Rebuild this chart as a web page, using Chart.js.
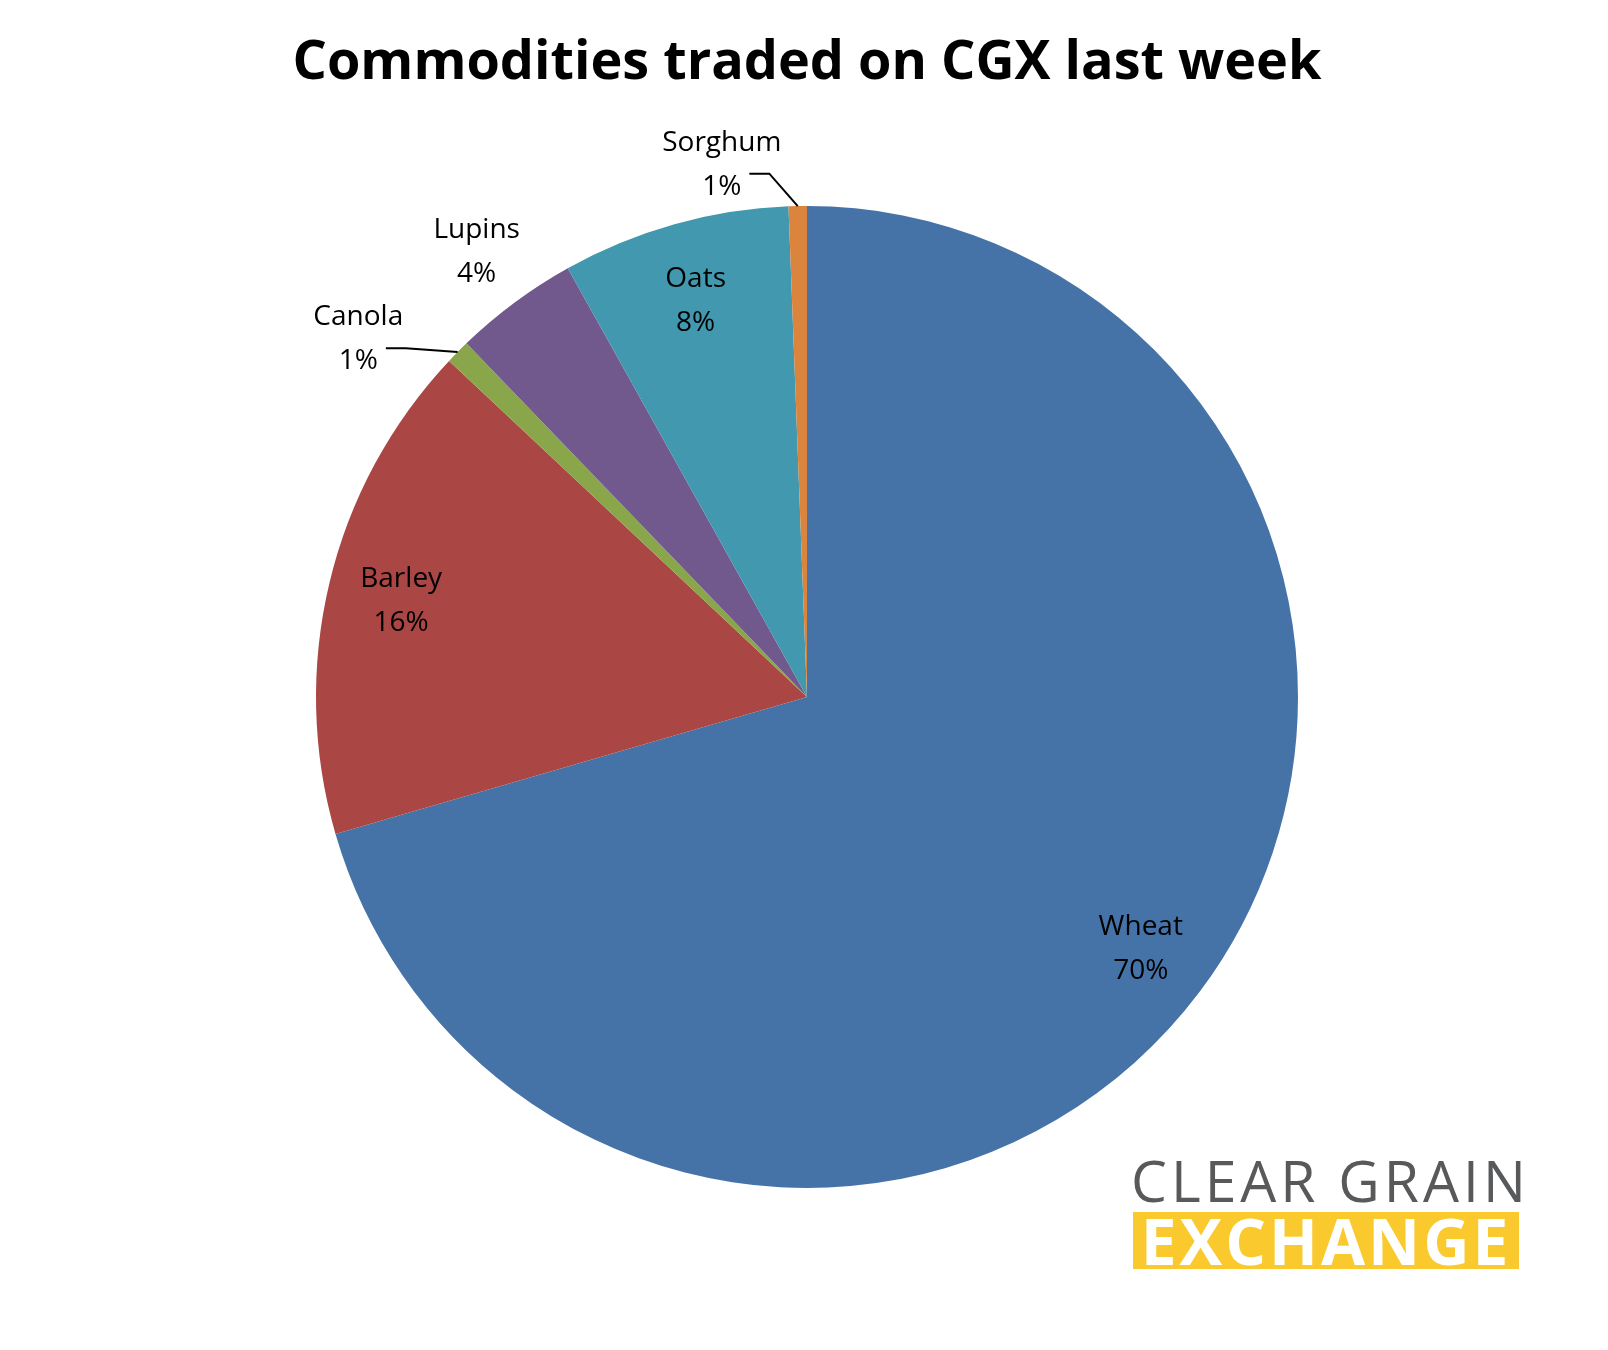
<!DOCTYPE html>
<html>
<head>
<meta charset="utf-8">
<script src="https://cdn.jsdelivr.net/npm/chart.js@4"></script>
<style>
  body { margin: 0; background: #fff; }
  #wrap { position: relative; width: 1608px; height: 1350px; }
  #logo1 { position: absolute; left: 1131px; top: 1141px; font: 57px "Open Sans", sans-serif; color: #58595b; letter-spacing: 4px; white-space: nowrap; }
  #logo2 { position: absolute; left: 1133px; top: 1212px; width: 386px; height: 57px; background: #f9c92e; color: #fff;
           font: bold 64px "Open Sans", sans-serif; line-height: 57px; text-align: center; letter-spacing: 3px; overflow: hidden; }
</style>
</head>
<body>
<div id="wrap">
  <canvas id="grafico" width="1608" height="1350"></canvas>
  <div id="logo1">CLEAR GRAIN</div>
  <div id="logo2">EXCHANGE</div>
</div>
<script>
const categorias = ['Wheat', 'Barley', 'Canola', 'Lupins', 'Oats', 'Sorghum'];
const valores = [70.5, 16.5, 0.8, 4.1, 7.5, 0.6];
const rotulos = ['70%', '16%', '1%', '4%', '8%', '1%'];
const cores = ['#4673a7', '#aa4644', '#8aa64a', '#71598e', '#4298af', '#db843d'];

// posição de cada rótulo: fração do raio e desvio angular (graus)
const posRotulo = [0.85, 0.85, 1.17, 1.13, 0.84, 1.10];
const desvio = [0, 0, -6, 0, 0, -8];
const comLinha = [false, false, true, false, false, true];

const rotulosPlugin = {
    id: 'rotulos',
    afterDraw(chart) {
        const ctx = chart.ctx;
        ctx.save();
        ctx.fillStyle = '#000';
        ctx.font = 'bold 54px "Open Sans", sans-serif';
        ctx.textAlign = 'center';
        ctx.textBaseline = 'middle';
        ctx.fillText('Commodities traded on CGX last week', 807, 64);

        const arcs = chart.getDatasetMeta(0).data;
        ctx.font = '28px "Open Sans", sans-serif';
        arcs.forEach((arc, i) => {
            const meio = (arc.startAngle + arc.endAngle) / 2;
            const ang = meio + desvio[i] * Math.PI / 180;
            const r = arc.outerRadius;
            const lx = arc.x + Math.cos(ang) * r * posRotulo[i];
            const ly = arc.y + Math.sin(ang) * r * posRotulo[i];
            ctx.fillStyle = '#000';
            ctx.fillText(categorias[i], lx, ly - 21);
            ctx.fillText(rotulos[i], lx, ly + 23);
            if (comLinha[i]) {
                const ex = arc.x + Math.cos(meio) * r;
                const ey = arc.y + Math.sin(meio) * r;
                const sx = lx + ctx.measureText(rotulos[i]).width / 2 + 8;
                const sy = ly + 10;
                ctx.strokeStyle = '#000';
                ctx.lineWidth = 2;
                ctx.beginPath();
                ctx.moveTo(sx, sy);
                ctx.lineTo(sx + 20, sy);
                ctx.lineTo(ex, ey);
                ctx.stroke();
            }
        });
        ctx.restore();
    }
};

new Chart(document.getElementById('grafico').getContext('2d'), {
    type: 'pie',
    data: {
        labels: categorias,
        datasets: [{ data: valores, backgroundColor: cores, borderWidth: 0 }]
    },
    options: {
        responsive: false,
        animation: false,
        layout: { padding: { left: 316, right: 310, top: 206, bottom: 162 } },
        plugins: { legend: { display: false }, tooltip: { enabled: false } }
    },
    plugins: [rotulosPlugin]
});
</script>
</body>
</html>
